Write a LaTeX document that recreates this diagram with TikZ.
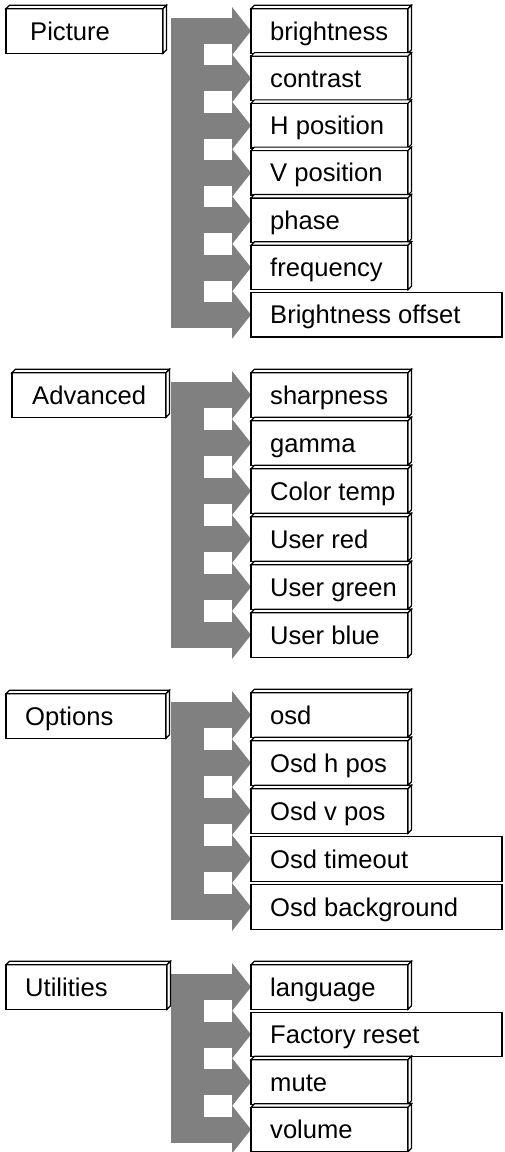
\documentclass[tikz,border=0pt]{standalone}
\usepackage{fontspec}
\setmainfont{Liberation Sans}
\usetikzlibrary{calc,backgrounds}
\definecolor{arrowfill}{RGB}{128,128,128}
\tikzset{
  boxface/.style={draw=black, fill=white, line width=1.4pt, inner sep=0pt, outer sep=0pt, minimum height=44.5pt, anchor=west},
  faceline/.style={draw=black, fill=white, line width=1.1pt, line join=miter},
  itemtext/.style={inner sep=0pt, anchor=base west, font=\fontsize{25.6}{30}\selectfont},
  arrowgray/.style={fill=arrowfill},
}
% #1 name, #2 left x, #3 right x, #4 centre y, #5 text, #6 text offset
\newcommand{\flatitem}[6]{%
  \node[boxface, minimum width={#3-#2}] (#1) at (#2,#4) {};
  \node[itemtext] (#1t) at ($(#1.west)+(#6,9)$) {#5};
}
\newcommand{\cubeitem}[6]{%
  \flatitem{#1}{#2}{#3}{#4}{#5}{#6}
  \filldraw[faceline] (#1.north west) -- ++(3.5,-3.5) -- ($(#1.north east)+(3.5,-3.5)$) -- (#1.north east) -- cycle;
  \filldraw[faceline] (#1.north east) -- ++(3.5,-3.5) -- ($(#1.south east)+(3.5,-3.5)$) -- (#1.south east) -- cycle;
}
\newcommand{\arrowto}[1]{%
  \fill[arrowgray] ($(#1.west)+(-48,-13)$) rectangle ($(#1.west)+(-18,13)$);
  \fill[arrowgray] ($(#1.west)+(-19,-24)$) -- (#1.west) -- ($(#1.west)+(-19,24)$) -- cycle;
}
\newcommand{\arrowbar}[2]{%
  \fill[arrowgray] ($(#1.west)+(-80,-13)$) rectangle ($(#2.west)+(-47,13)$);
}
\begin{document}
\begin{tikzpicture}[x=1pt,y=-1pt]
\useasboundingbox (0,0) rectangle (504,1152);
% ---------- Group 1 ----------
\cubeitem{picture}{6}{163}{31}{Picture}{24}
\cubeitem{a1}{251}{408}{31}{brightness}{19}
\cubeitem{a2}{251}{408}{78.3}{contrast}{19}
\cubeitem{a3}{251}{408}{125.6}{H position}{19}
\cubeitem{a4}{251}{408}{172.9}{V position}{19}
\cubeitem{a5}{251}{408}{220.2}{phase}{19}
\cubeitem{a6}{251}{408}{267.5}{frequency}{19}
\flatitem{a7}{251}{502}{314.8}{Brightness offset}{19}
% ---------- Group 2 ----------
\cubeitem{advanced}{12}{166}{395}{Advanced}{20}
\cubeitem{b1}{251}{408}{395}{sharpness}{19}
\cubeitem{b2}{251}{408}{443}{gamma}{19}
\cubeitem{b3}{251}{408}{491}{Color temp}{19}
\cubeitem{b4}{251}{408}{539}{User red}{19}
\cubeitem{b5}{251}{408}{587}{User green}{19}
\cubeitem{b6}{251}{408}{635}{User blue}{19}
% ---------- Group 3 ----------
\cubeitem{options}{6}{166}{716}{Options}{19}
\cubeitem{c1}{251}{408}{715}{osd}{19}
\cubeitem{c2}{251}{408}{763}{Osd h pos}{19}
\cubeitem{c3}{251}{408}{811}{Osd v pos}{19}
\flatitem{c4}{251}{502}{859}{Osd timeout}{19}
\flatitem{c5}{251}{502}{907}{Osd background}{19}
% ---------- Group 4 ----------
\cubeitem{utilities}{6}{167}{987}{Utilities}{19}
\cubeitem{d1}{251}{408}{987}{language}{19}
\flatitem{d2}{251}{502}{1034.5}{Factory reset}{19}
\cubeitem{d3}{251}{408}{1082}{mute}{19}
\cubeitem{d4}{251}{408}{1129.5}{volume}{19}
% ---------- gray arrows ----------
\begin{scope}[on background layer]
  \fill[white] (0,0) rectangle (504,1152);
  \arrowbar{a1}{a7}
  \foreach \n in {a1,a2,a3,a4,a5,a6,a7} {\arrowto{\n}}
  \arrowbar{b1}{b6}
  \foreach \n in {b1,b2,b3,b4,b5,b6} {\arrowto{\n}}
  \arrowbar{c1}{c5}
  \foreach \n in {c1,c2,c3,c4,c5} {\arrowto{\n}}
  \arrowbar{d1}{d4}
  \foreach \n in {d1,d2,d3,d4} {\arrowto{\n}}
\end{scope}
\end{tikzpicture}
\end{document}
